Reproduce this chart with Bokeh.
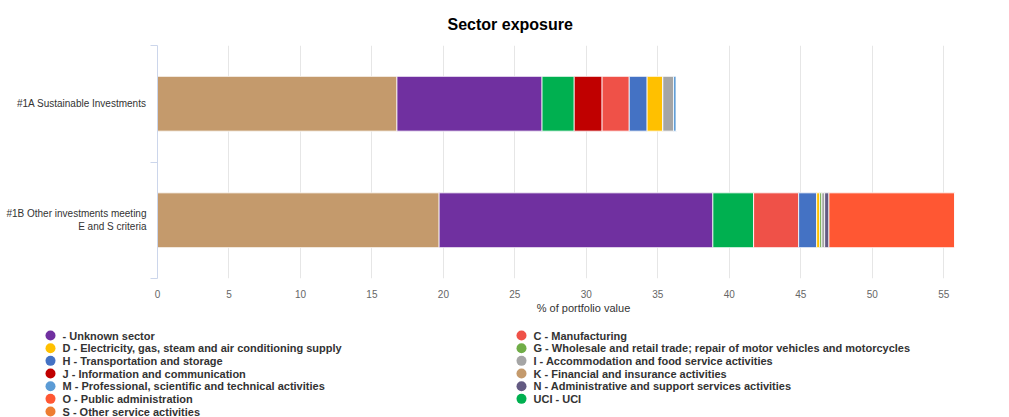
from bokeh.plotting import figure
from bokeh.models import (ColumnDataSource, Range1d, FixedTicker, SingleIntervalTicker, Title)
from bokeh.core.properties import value
from bokeh.embed import file_html
from bokeh.resources import INLINE

# ---------------- data ----------------
categories = ["#1A Sustainable Investments", "#1B Other investments meeting\nE and S criteria"]

# stacking order (left to right)
stack_keys = ["K", "Unknown", "UCI", "J", "C", "H", "D", "G", "I", "M", "N", "O", "S"]

K_fin = [16.75, 19.7]
Unknown = [10.15, 19.15]
UCI = [2.25, 2.85]
J_info = [1.95, 0.0]
C_manu = [1.9, 3.15]
H_trans = [1.25, 1.26]
D_elec = [1.1, 0.21]
G_trade = [0.0, 0.15]
I_accom = [0.75, 0.2]
M_prof = [0.2, 0.0]
N_admin = [0.0, 0.3]
O_public = [0.0, 8.8]
S_other = [0.0, 0.0]

# legend order
legend_keys = ["Unknown", "C", "D", "G", "H", "I", "J", "K", "M", "N", "O", "UCI", "S"]
legend_labels = {
    "Unknown": " - Unknown sector",
    "C": "C - Manufacturing",
    "D": "D - Electricity, gas, steam and air conditioning supply",
    "G": "G - Wholesale and retail trade; repair of motor vehicles and motorcycles",
    "H": "H - Transportation and storage",
    "I": "I - Accommodation and food service activities",
    "J": "J - Information and communication",
    "K": "K - Financial and insurance activities",
    "M": "M - Professional, scientific and technical activities",
    "N": "N - Administrative and support services activities",
    "O": "O - Public administration",
    "UCI": "UCI - UCI",
    "S": "S - Other service activities",
}
colors = {
    "K": "#C49A6C", "Unknown": "#7030A0", "UCI": "#00B050", "J": "#C00000",
    "C": "#EF5148", "H": "#4472C4", "D": "#FFC000", "G": "#70AD47",
    "I": "#A5A5A5", "M": "#5B9BD5", "N": "#635A82", "O": "#FF5733", "S": "#ED7D31",
}
x_ticks_interval = 5
x_title = "% of portfolio value"
chart_title = "Sector exposure"

FONT = "Liberation Sans"
FRAME_LEFT = 157
W = 1009

data = dict(y=list(range(len(categories))), K=K_fin, Unknown=Unknown, UCI=UCI, J=J_info,
            C=C_manu, H=H_trans, D=D_elec, G=G_trade, I=I_accom, M=M_prof, N=N_admin,
            O=O_public, S=S_other)
source = ColumnDataSource(data)

# ---------------- main chart ----------------
p = figure(width=W, height=320, output_backend="svg", toolbar_location=None,
           x_range=Range1d(0, 59.6), y_range=Range1d(1.5, -0.5),
           min_border_left=FRAME_LEFT, min_border_right=0, min_border_top=45, min_border_bottom=42)
p.outline_line_color = None
p.background_fill_color = "white"

p.hbar_stack(stack_keys, y="y", height=0.47, source=source,
             color=[colors[k] for k in stack_keys], line_color="white", line_width=0.8)

# title
p.title = Title(text=chart_title, align="left", offset=290, text_font=FONT,
                text_font_size="16px", text_font_style="bold", text_color="#000000", standoff=25)

# x axis
xa = p.xaxis[0]
xa.ticker = SingleIntervalTicker(interval=x_ticks_interval, num_minor_ticks=0)
xa.axis_line_color = None
xa.major_tick_line_color = None
xa.minor_tick_line_color = None
xa.major_label_text_font = FONT
xa.major_label_text_font_size = "10px"
xa.major_label_text_color = "#666666"
xa.major_label_standoff = 5
xa.axis_label = x_title
xa.axis_label_text_font = FONT
xa.axis_label_text_font_size = "11px"
xa.axis_label_text_font_style = "normal"
xa.axis_label_text_color = "#333333"
xa.axis_label_standoff = 1

p.xgrid.ticker = SingleIntervalTicker(interval=x_ticks_interval, num_minor_ticks=0)
p.xgrid.grid_line_color = "#e6e6e6"
p.ygrid.grid_line_color = None

# y axis
ya = p.yaxis[0]
n = len(categories)
ya.ticker = FixedTicker(ticks=list(range(n)), minor_ticks=[i - 0.5 for i in range(n + 1)])
ya.major_label_overrides = {i: c for i, c in enumerate(categories)}
ya.axis_line_color = "#ccd6eb"
ya.major_tick_line_color = None
ya.major_tick_out = 0
ya.major_tick_in = 0
ya.minor_tick_line_color = "#ccd6eb"
ya.minor_tick_out = 7
ya.minor_tick_in = 0
ya.major_label_standoff = 4
ya.major_label_text_font = FONT
ya.major_label_text_font_size = "10px"
ya.major_label_text_color = "#333333"

# ---------------- legend (separate root, window pixel coordinates) ----------------
LH = 97
leg = figure(width=W, height=LH, output_backend="svg", toolbar_location=None,
             x_range=Range1d(0, W), y_range=Range1d(LH, 0),
             min_border=0, min_border_left=0, min_border_right=0, min_border_top=0, min_border_bottom=0)
leg.axis.visible = False
leg.grid.visible = False
leg.outline_line_color = None

col_x0, col_dx, row_y0, row_dy = 50, 471, 15, 12.67
lx = [col_x0 + (i % 2) * col_dx for i in range(len(legend_keys))]
ly = [row_y0 + (i // 2) * row_dy for i in range(len(legend_keys))]
lsrc = ColumnDataSource(dict(x=lx, y=ly, tx=[v + 12 for v in lx],
                             label=[legend_labels[k] for k in legend_keys],
                             color=[colors[k] for k in legend_keys]))
leg.scatter("x", "y", source=lsrc, size=10, color="color", line_color=None)
leg.text("tx", "y", text="label", source=lsrc, text_font=value(FONT), text_font_size="11px",
         text_font_style="bold", text_color="#333333", text_baseline="middle", text_align="left")

open("out.html", "w").write(file_html([p, leg], INLINE))
